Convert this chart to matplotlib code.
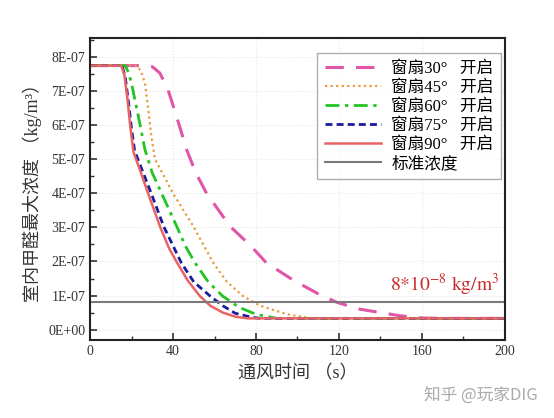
import numpy as np
import matplotlib
matplotlib.use("Agg")
import matplotlib.pyplot as plt
from matplotlib.ticker import MultipleLocator, FuncFormatter

plt.rcParams['font.family'] = ['Liberation Serif', 'Noto Sans CJK SC', 'DejaVu Sans']
plt.rcParams['mathtext.fontset'] = 'stix'

# data (concentration in 1E-07 kg/m3)
x30 = [0, 27, 30, 33.7, 37.6, 42, 46.6, 51, 56.2, 67.5, 77, 85, 98, 110, 119, 130, 149, 160, 170, 200]
y30 = [7.75, 7.75, 7.72, 7.53, 7.04, 6.2, 5.28, 4.6, 4.0, 3.03, 2.49, 1.96, 1.45, 1.05, 0.8, 0.6, 0.41, 0.34, 0.33, 0.33]

x45 = [0, 22.5, 24.5, 26.5, 28, 29.5, 31.3, 34, 40, 49.8, 59.4, 66, 73.8, 82, 95, 107, 200]
y45 = [7.75, 7.75, 7.6, 7.23, 6.5, 5.7, 5.0, 4.7, 4.0, 3.03, 1.96, 1.4, 0.98, 0.7, 0.45, 0.33, 0.33]

x60 = [0, 17, 18.5, 20, 23.3, 26.5, 30, 34.5, 41.8, 46, 50.6, 57, 64, 72, 80, 90, 200]
y60 = [7.75, 7.75, 7.55, 7.23, 6.26, 5.28, 4.6, 4.0, 3.03, 2.45, 1.96, 1.4, 0.98, 0.65, 0.45, 0.33, 0.33]

x75 = [0, 15.5, 17, 18.5, 20, 21.5, 25, 29.5, 35.5, 44, 50, 58, 64, 70, 78, 82, 200]
y75 = [7.75, 7.75, 7.4, 6.7, 5.9, 5.25, 4.7, 4.0, 3.03, 1.96, 1.4, 0.98, 0.7, 0.48, 0.36, 0.33, 0.33]

x90 = [0, 15, 16.5, 18, 19.5, 21, 24, 28, 33.7, 38, 42, 47, 53, 58, 64, 70, 76, 200]
y90 = [7.75, 7.75, 7.5, 6.8, 5.9, 5.2, 4.7, 4.0, 3.03, 2.4, 1.96, 1.45, 0.98, 0.7, 0.5, 0.38, 0.33, 0.33]

std_level = 0.8
labels = ['窗扇30°   开启', '窗扇45°   开启', '窗扇60°   开启', '窗扇75°   开启', '窗扇90°   开启', '标准浓度']

fig = plt.figure(figsize=(5.54, 4.18), dpi=100)
ax = fig.add_axes([0.1625, 0.187, 0.749, 0.722])

s = 1e-7
ax.plot(x30, np.array(y30) * s, color='#e055a8', lw=2.2, dashes=(6, 4), label=labels[0])
ax.plot(x45, np.array(y45) * s, color='#e89a3c', lw=1.6, ls=(0, (1, 1.5)), label=labels[1])
ax.plot(x60, np.array(y60) * s, color='#22c422', lw=2.0, dashes=(5, 2, 1.2, 2), label=labels[2])
ax.plot(x75, np.array(y75) * s, color='#1a1a9c', lw=2.0, dashes=(2.5, 1.5), label=labels[3])
ax.plot(x90, np.array(y90) * s, color='#e86464', lw=1.8, label=labels[4])
ax.axhline(std_level * s, color='#7a7a7a', lw=1.5, label=labels[5])

ax.text(197, 0.93e-7, r'$8{*}10^{-8}\ \mathrm{kg/m^3}$', color='#cc2a2a',
        fontsize=14, ha='right', va='bottom')

ax.set_xlim(0, 200)
ax.set_ylim(-0.3e-7, 8.56e-7)
ax.xaxis.set_major_locator(MultipleLocator(40))
ax.xaxis.set_minor_locator(MultipleLocator(20))
ax.yaxis.set_major_locator(MultipleLocator(1e-7))
ax.yaxis.set_minor_locator(MultipleLocator(0.5e-7))
ax.yaxis.set_major_formatter(FuncFormatter(lambda v, p: f"{v:.0E}" if abs(v) > 1e-12 else "0E+00"))
ax.tick_params(which='both', direction='in', labelsize=10, colors='#333333')
ax.tick_params(which='major', length=5, width=1.2)
ax.tick_params(which='minor', length=3, width=1.0)
ax.grid(True, which='major', color='#e6e6e6', lw=0.8, ls=':')
for sp in ax.spines.values():
    sp.set_linewidth(1.5)
    sp.set_color('#222222')

ax.set_xlabel('通风时间 （s）', fontsize=13, color='#333333', labelpad=5)
ax.set_ylabel('室内甲醛最大浓度 （kg/m³）', fontsize=13, color='#333333', labelpad=4)

leg = ax.legend(loc='upper right', bbox_to_anchor=(0.995, 0.955), fontsize=12, frameon=True,
                fancybox=False, edgecolor='#999999', handlelength=3.4, handletextpad=0.6,
                labelspacing=0.18, borderaxespad=0.1, borderpad=0.45)
leg.get_frame().set_linewidth(1.0)

fig.text(0.97, 0.035, '知乎 @玩家DIG', fontsize=12, color='#aaaaaa', ha='right', va='bottom',
         family=['Noto Sans CJK SC', 'DejaVu Sans'])

fig.savefig('out.png', dpi=100)
